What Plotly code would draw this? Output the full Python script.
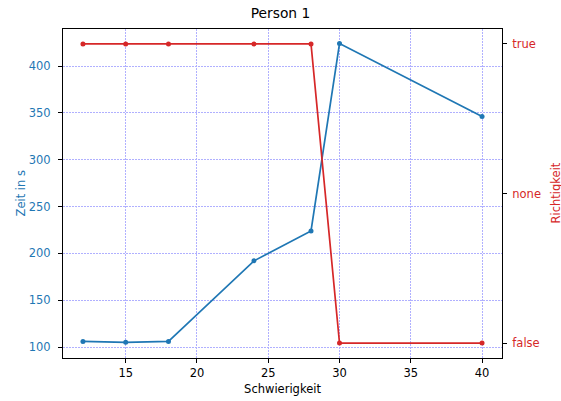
import plotly.graph_objects as go

schwierigkeit = [12, 15, 18, 24, 28, 30, 40]
zeit = [106, 105, 106, 192, 224, 424, 346]
richtigkeit = ["true", "true", "true", "true", "true", "false", "false"]
kategorien = ["false", "none", "true"]

blue = "#1f77b4"
red = "#d62728"
font = "DejaVu Sans"
fs = 11.5
grid = "#b0b0ff"

fig = go.Figure()
fig.add_trace(go.Scatter(x=schwierigkeit, y=zeit, mode="lines+markers",
                         line=dict(color=blue, width=1.7),
                         marker=dict(color=blue, size=5), yaxis="y", showlegend=False))
fig.add_trace(go.Scatter(x=schwierigkeit, y=richtigkeit, mode="lines+markers",
                         line=dict(color=red, width=1.7),
                         marker=dict(color=red, size=5), yaxis="y2", showlegend=False))

fig.update_layout(
    width=561, height=401,
    margin=dict(l=63, r=59, t=29, b=43, autoexpand=False),
    paper_bgcolor="white", plot_bgcolor="white",
    font=dict(family=font, size=fs, color="black"),
    title=dict(text="Person 1", x=0.5, xanchor="center", yref="container", y=1 - 13 / 401,
               yanchor="middle", font=dict(size=13.8, color="black")),
    xaxis=dict(range=[10.6, 41.4], tickvals=[15, 20, 25, 30, 35, 40], automargin=False,
               showline=True, linecolor="black", linewidth=1, mirror=True,
               ticks="outside", ticklen=4, tickcolor="black",
               showgrid=True, gridcolor=grid, griddash="2px,1px", gridwidth=1,
               zeroline=False,
               title=dict(text="Schwierigkeit", font=dict(size=fs, color="black"), standoff=6),
               tickfont=dict(size=fs, color="black")),
    yaxis=dict(range=[88.3, 439.5], tickvals=[100, 150, 200, 250, 300, 350, 400], automargin=False,
               showline=True, linecolor="black", linewidth=1, mirror=True,
               ticks="outside", ticklen=4, tickcolor="black", ticklabelstandoff=5,
               showgrid=True, gridcolor=grid, griddash="2px,1px", gridwidth=1,
               zeroline=False,
               tickfont=dict(size=fs, color=blue)),
    yaxis2=dict(type="category", categoryorder="array", categoryarray=kategorien,
                range=[-0.1, 2.1], overlaying="y", side="right", automargin=False,
                showline=False, ticks="outside", ticklen=4, tickcolor="black", ticklabelstandoff=3,
                showgrid=False, zeroline=False,
                tickfont=dict(size=fs, color=red)),
    annotations=[
        dict(text="Zeit in s", xref="paper", yref="paper", x=-43 / 439, y=0.5,
             xanchor="center", yanchor="middle", textangle=-90, showarrow=False,
             font=dict(size=fs, color=blue)),
        dict(text="Richtigkeit", xref="paper", yref="paper", x=1 + 53 / 439, y=0.5,
             xanchor="center", yanchor="middle", textangle=-90, showarrow=False,
             font=dict(size=fs, color=red)),
    ],
)

fig.write_html("out.html", config={"displayModeBar": False},
               post_script="document.body.style.margin='0';")
